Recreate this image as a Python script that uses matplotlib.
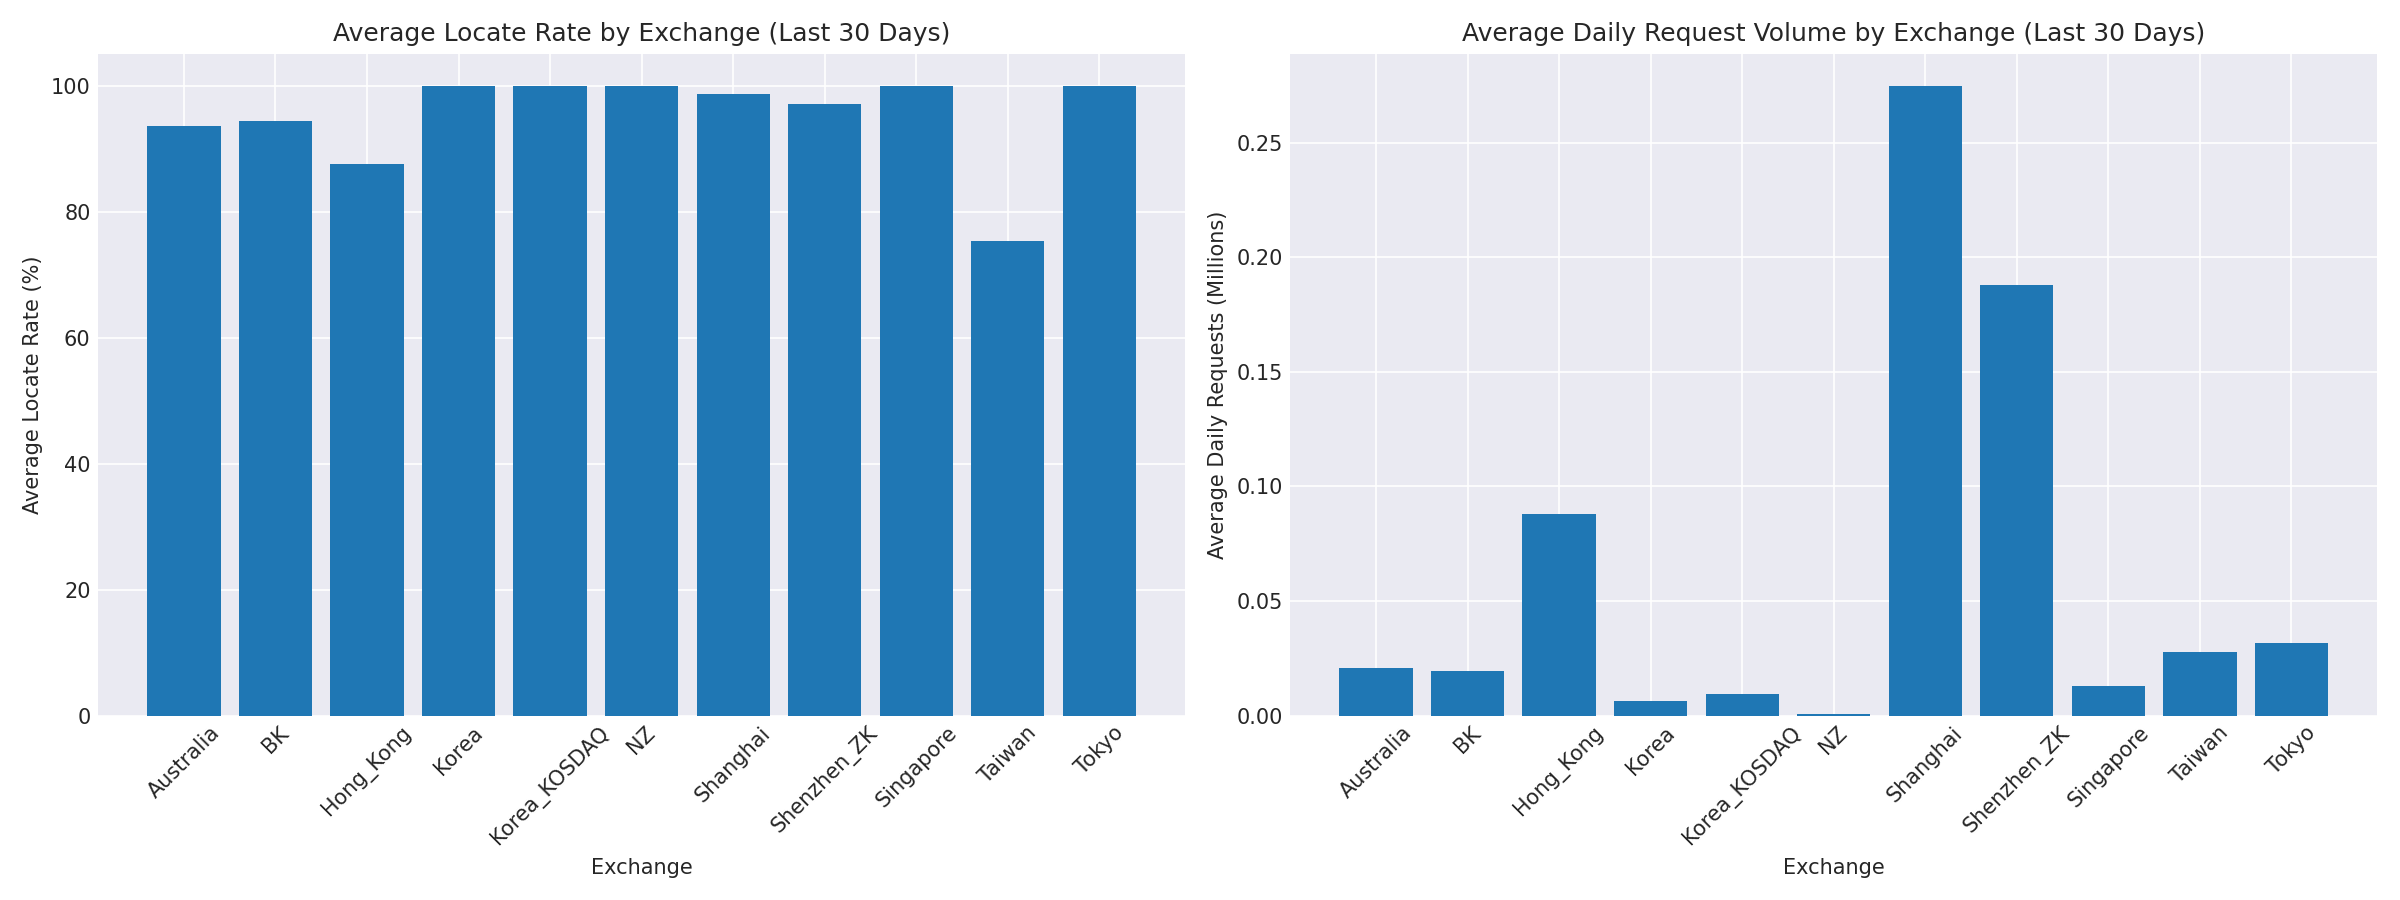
import matplotlib
matplotlib.use("Agg")
import matplotlib.pyplot as plt

exchanges = ["Australia", "BK", "Hong_Kong", "Korea", "Korea_KOSDAQ", "NZ",
             "Shanghai", "Shenzhen_ZK", "Singapore", "Taiwan", "Tokyo"]
locate_rate = [93.5, 94.3, 87.6, 100.0, 100.0, 100.0, 98.6, 97.0, 100.0, 75.3, 100.0]
daily_requests_m = [0.0207, 0.0194, 0.0878, 0.0063, 0.0093, 0.0008,
                    0.2749, 0.1877, 0.0129, 0.0277, 0.0317]

plt.style.use("seaborn-v0_8-darkgrid")
plt.rcParams["font.family"] = ["DejaVu Sans"]
fig, (ax1, ax2) = plt.subplots(1, 2, figsize=(16, 6), dpi=150)

ax1.bar(exchanges, locate_rate, color="#1f77b4")
ax1.set_title("Average Locate Rate by Exchange (Last 30 Days)")
ax1.set_xlabel("Exchange")
ax1.set_ylabel("Average Locate Rate (%)")
ax1.tick_params(axis="x", rotation=45)

ax2.bar(exchanges, daily_requests_m, color="#1f77b4")
ax2.set_title("Average Daily Request Volume by Exchange (Last 30 Days)")
ax2.set_xlabel("Exchange")
ax2.set_ylabel("Average Daily Requests (Millions)")
ax2.tick_params(axis="x", rotation=45)

plt.tight_layout()
fig.savefig("out.png", dpi=150)
